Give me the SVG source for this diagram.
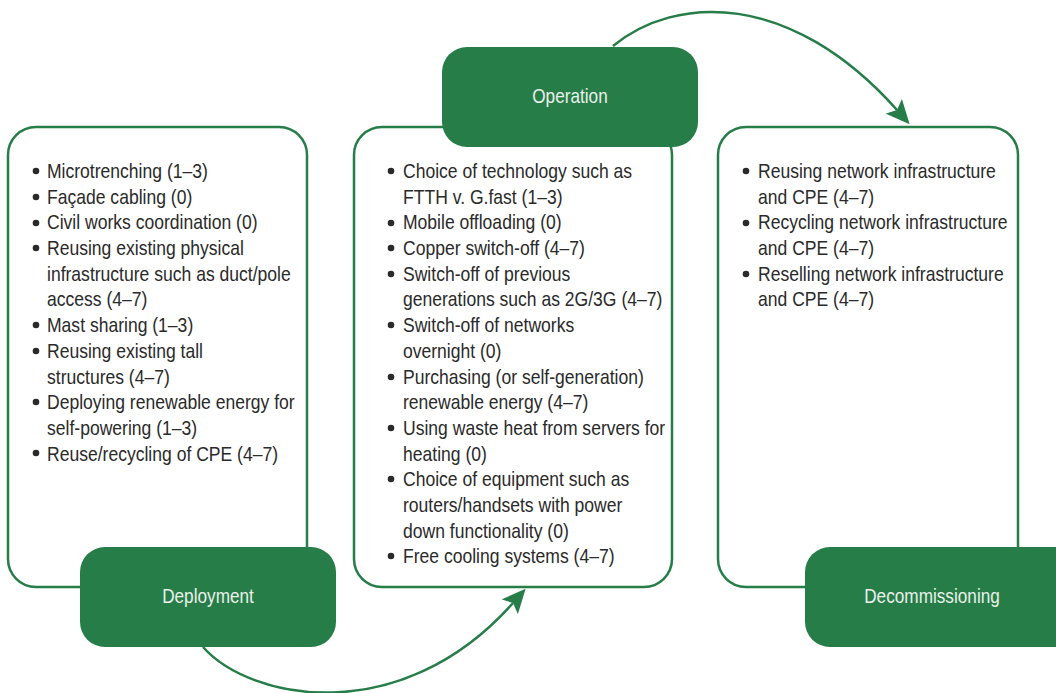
<svg xmlns="http://www.w3.org/2000/svg" width="1056" height="693" viewBox="0 0 1056 693">
<style>
.box{fill:#fff;stroke:#267d48;stroke-width:2.5}
.pill{fill:#267d48}
.lbl{font-family:"Liberation Sans",Arial,sans-serif;font-size:20px;fill:#e9f1ea;text-anchor:middle}
.t{font-family:"Liberation Sans",Arial,sans-serif;font-size:20px;fill:#2a2a2a}
.b{fill:#2a2a2a}
.arr{fill:none;stroke:#267d48;stroke-width:2.5}
</style>
<defs>
<marker id="ah" markerUnits="userSpaceOnUse" markerWidth="24" markerHeight="22" viewBox="0 0 24 22" refX="5" refY="11" orient="auto">
<path d="M0,0 L24,11 L0,22 L5,11 z" fill="#267d48"/>
</marker>
</defs>
<g id="connectors">
<path class="arr" d="M613,46 C675,-5 790,-10 897,110" marker-end="url(#ah)"/>
<path class="arr" d="M203,647 C250,700 400,730 513,603" marker-end="url(#ah)"/>
</g>
<g id="deployment">
<rect class="box" x="8" y="127" width="299" height="460" rx="28"/>
<rect class="pill" x="80" y="547" width="256" height="100" rx="25"/>
<text class="lbl" transform="translate(208,603) scale(0.86,1)">Deployment</text>
<g class="b"><circle cx="36" cy="171" r="3.3"/><circle cx="36" cy="197" r="3.3"/><circle cx="36" cy="223" r="3.3"/><circle cx="36" cy="248" r="3.3"/><circle cx="36" cy="325" r="3.3"/><circle cx="36" cy="351" r="3.3"/><circle cx="36" cy="402" r="3.3"/><circle cx="36" cy="453" r="3.3"/></g>
<g transform="translate(47,0) scale(0.878,1)" class="t">
<text x="0" y="178">Microtrenching (1–3)</text>
<text x="0" y="203.7">Façade cabling (0)</text>
<text x="0" y="229.4">Civil works coordination (0)</text>
<text x="0" y="255.1">Reusing existing physical</text>
<text x="0" y="280.8">infrastructure such as duct/pole</text>
<text x="0" y="306.5">access (4–7)</text>
<text x="0" y="332.2">Mast sharing (1–3)</text>
<text x="0" y="357.9">Reusing existing tall</text>
<text x="0" y="383.6">structures (4–7)</text>
<text x="0" y="409.3">Deploying renewable energy for</text>
<text x="0" y="435">self-powering (1–3)</text>
<text x="0" y="460.7">Reuse/recycling of CPE (4–7)</text>
</g>
</g>
<g id="operation">
<rect class="box" x="354" y="127" width="318" height="460" rx="28"/>
<rect class="pill" x="442" y="47" width="256" height="100" rx="25"/>
<text class="lbl" transform="translate(570,103) scale(0.86,1)">Operation</text>
<g class="b"><circle cx="391" cy="171" r="3.3"/><circle cx="391" cy="223" r="3.3"/><circle cx="391" cy="248" r="3.3"/><circle cx="391" cy="274" r="3.3"/><circle cx="391" cy="325" r="3.3"/><circle cx="391" cy="377" r="3.3"/><circle cx="391" cy="428" r="3.3"/><circle cx="391" cy="479" r="3.3"/><circle cx="391" cy="556" r="3.3"/></g>
<g transform="translate(403,0) scale(0.878,1)" class="t">
<text x="0" y="178">Choice of technology such as</text>
<text x="0" y="203.7">FTTH v. G.fast (1–3)</text>
<text x="0" y="229.4">Mobile offloading (0)</text>
<text x="0" y="255.1">Copper switch-off (4–7)</text>
<text x="0" y="280.8">Switch-off of previous</text>
<text x="0" y="306.5">generations such as 2G/3G (4–7)</text>
<text x="0" y="332.2">Switch-off of networks</text>
<text x="0" y="357.9">overnight (0)</text>
<text x="0" y="383.6">Purchasing (or self-generation)</text>
<text x="0" y="409.3">renewable energy (4–7)</text>
<text x="0" y="435">Using waste heat from servers for</text>
<text x="0" y="460.7">heating (0)</text>
<text x="0" y="486.4">Choice of equipment such as</text>
<text x="0" y="512.1">routers/handsets with power</text>
<text x="0" y="537.8">down functionality (0)</text>
<text x="0" y="563.5">Free cooling systems (4–7)</text>
</g>
</g>
<g id="decommissioning">
<rect class="box" x="718" y="127" width="300" height="460" rx="28"/>
<rect class="pill" x="805" y="547" width="280" height="100" rx="25"/>
<text class="lbl" transform="translate(932,603) scale(0.86,1)">Decommissioning</text>
<g class="b"><circle cx="746" cy="171" r="3.3"/><circle cx="746" cy="223" r="3.3"/><circle cx="746" cy="274" r="3.3"/></g>
<g transform="translate(758,0) scale(0.878,1)" class="t">
<text x="0" y="178">Reusing network infrastructure</text>
<text x="0" y="203.7">and CPE (4–7)</text>
<text x="0" y="229.4">Recycling network infrastructure</text>
<text x="0" y="255.1">and CPE (4–7)</text>
<text x="0" y="280.8">Reselling network infrastructure</text>
<text x="0" y="306.5">and CPE (4–7)</text>
</g>
</g>
</svg>
